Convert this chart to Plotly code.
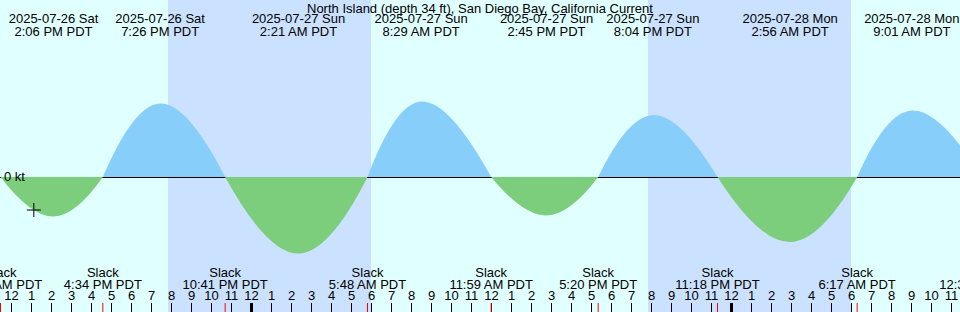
import pandas as pd
import plotly.graph_objects as go

# ---------------- data ----------------
title_text = "North Island (depth 34 ft), San Diego Bay, California Current"
view_start = "2025-07-26 11:25:30"
view_end = "2025-07-28 11:25:30"

# slack water times (current crosses 0 kt)
slack_times = [
    "2025-07-26 11:27", "2025-07-26 16:34", "2025-07-26 22:41",
    "2025-07-27 05:48", "2025-07-27 11:59", "2025-07-27 17:20",
    "2025-07-27 23:18", "2025-07-28 06:17", "2025-07-28 12:31",
]
# max ebb (negative) / max flood (positive) times and speeds (kt)
extreme_times = [
    "2025-07-26 14:06", "2025-07-26 19:26", "2025-07-27 02:21",
    "2025-07-27 08:29", "2025-07-27 14:45", "2025-07-27 20:04",
    "2025-07-28 02:56", "2025-07-28 09:01",
]
extreme_values = [-0.79, 1.47, -1.53, 1.51, -0.77, 1.24, -1.30, 1.33]

night_starts = ["2025-07-26 19:49:30", "2025-07-27 19:49:30"]
night_ends = ["2025-07-27 05:58:30", "2025-07-28 05:58:30"]

now_time = "2025-07-26 13:07"
now_value = -0.66
zero_label = "0 kt"

# ---------------- style ----------------
DAY = "#e0ffff"
NIGHT = "#cae1ff"
FLOOD = "#87cefa"
EBB = "#7ccd7c"
FONT = "Liberation Sans"
FS = 13
W, H = 960, 312
ZERO_PX = 177
PX_PER_KT = 50.0
y_hi = ZERO_PX / PX_PER_KT
y_lo = -(H - ZERO_PX) / PX_PER_KT

fig = go.Figure()

# current curve: one filled arch per half cycle
for i, (t, v) in enumerate(zip(extreme_times, extreme_values)):
    col = FLOOD if v > 0 else EBB
    fig.add_trace(go.Scatter(
        x=[slack_times[i], t, slack_times[i + 1]], y=[0, v, 0],
        mode="lines", line=dict(shape="spline", smoothing=1.3, width=0, color=col),
        fill="tozeroy", fillcolor=col, hoverinfo="skip", yaxis="y"))

# current-time marker
fig.add_trace(go.Scatter(
    x=[now_time], y=[now_value], mode="markers",
    marker=dict(symbol="cross-thin", size=10, line=dict(width=1, color="black"), color="black"),
    hoverinfo="skip"))

# ---- overlay (pixel) axis items: tick marks and labels ----
hours = pd.date_range("2025-07-26 11:00", "2025-07-28 12:00", freq="h")
reg_x, reg_y, mid_x, mid_y = [], [], [], []
for h in hours:
    if h.hour == 0:
        mid_x += [h, h, None]
        mid_y += [303, 312, None]
    else:
        reg_x += [h, h, None]
        reg_y += [303, 312, None]
fig.add_trace(go.Scatter(x=reg_x, y=reg_y, mode="lines", yaxis="y2",
                         line=dict(color="black", width=1), hoverinfo="skip"))
fig.add_trace(go.Scatter(x=mid_x, y=mid_y, mode="lines", yaxis="y2",
                         line=dict(color="black", width=3), hoverinfo="skip"))
sl_x, sl_y = [], []
for s in slack_times:
    sl_x += [s, s, None]
    sl_y += [303, 312, None]
fig.add_trace(go.Scatter(x=sl_x, y=sl_y, mode="lines", yaxis="y2",
                         line=dict(color="red", width=1), hoverinfo="skip"))

hour_labels = [str(h.hour % 12 or 12) for h in hours]


def text_row(xs, ys, texts):
    fig.add_trace(go.Scatter(
        x=xs, y=ys, mode="text", text=texts, yaxis="y2",
        textposition="middle center", cliponaxis=True,
        textfont=dict(family=FONT, size=FS, color="black"), hoverinfo="skip"))


text_row(list(hours), [296.7] * len(hours), hour_labels)

slack_ts = [pd.Timestamp(s) for s in slack_times]
text_row(slack_times, [273.8] * len(slack_times), ["Slack"] * len(slack_times))
text_row(slack_times, [285.3] * len(slack_times),
         [t.strftime("%-I:%M %p PDT") for t in slack_ts])

ext_ts = [pd.Timestamp(s) for s in extreme_times]
text_row(extreme_times, [19.5] * len(extreme_times),
         [t.strftime("%Y-%m-%d %a") for t in ext_ts])
text_row(extreme_times, [32.5] * len(extreme_times),
         [t.strftime("%-I:%M %p PDT") for t in ext_ts])

# ---- shapes: night bands and zero line ----
shapes = []
for a, b in zip(night_starts, night_ends):
    shapes.append(dict(type="rect", xref="x", yref="paper", x0=a, x1=b, y0=0, y1=1,
                       fillcolor=NIGHT, line=dict(width=0), layer="below"))
zy = 1 - (ZERO_PX + 0.5) / H
shapes.append(dict(type="line", xref="paper", yref="paper", x0=0, x1=1, y0=zy, y1=zy,
                   line=dict(color="black", width=1), layer="below"))

annotations = [
    dict(text=title_text, xref="paper", yref="paper", x=0.5, y=1 - 8 / H,
         xanchor="center", yanchor="middle", showarrow=False,
         font=dict(family=FONT, size=FS, color="black")),
    dict(text=zero_label, xref="paper", yref="paper", x=2 / W, y=1 - 176.2 / H,
         xanchor="left", yanchor="middle", showarrow=False,
         font=dict(family=FONT, size=FS, color="black")),
]

fig.update_layout(
    width=W, height=H, margin=dict(l=0, r=0, t=0, b=0, pad=0),
    paper_bgcolor=DAY, plot_bgcolor=DAY, showlegend=False,
    shapes=shapes, annotations=annotations,
    xaxis=dict(type="date", range=[view_start, view_end], visible=False, fixedrange=True),
    yaxis=dict(range=[y_lo, y_hi], visible=False, fixedrange=True),
    yaxis2=dict(range=[H, 0], overlaying="y", visible=False, fixedrange=True),
)

fig.write_html("out.html", config={"displayModeBar": False})
